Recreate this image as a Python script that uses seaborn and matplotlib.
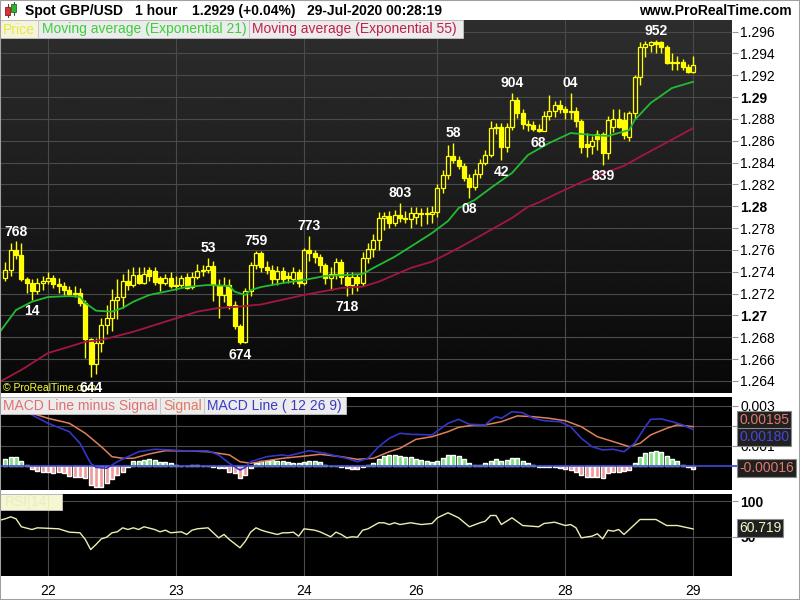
import numpy as np
import matplotlib
matplotlib.use("Agg")
import matplotlib.pyplot as plt
from matplotlib.patches import Rectangle
from matplotlib.lines import Line2D
import seaborn as sns

sns.set_style("white")
plt.rcParams['font.family'] = ['Liberation Sans', 'DejaVu Sans']

# ---------------- data (hourly candles, index 0 = 21-Jul 16:00) ----------------
opens = [1.2734, 1.2742, 1.2760, 1.2755, 1.2733, 1.2730, 1.2722, 1.2730, 1.2732, 1.2734,
         1.2729, 1.2727, 1.2723, 1.2720, 1.2721, 1.2711, 1.2678, 1.2656, 1.2675, 1.2691,
         1.2698, 1.2714, 1.2717, 1.2732, 1.2728, 1.2737, 1.2730, 1.2742, 1.2741, 1.2734,
         1.2730, 1.2734, 1.2727, 1.2728, 1.2735, 1.2726, 1.2735, 1.2741, 1.2742, 1.2745,
         1.2728, 1.2719, 1.2728, 1.2710, 1.2690, 1.2676, 1.2722, 1.2746, 1.2757, 1.2744,
         1.2742, 1.2733, 1.2741, 1.2736, 1.2733, 1.2740, 1.2730, 1.2760, 1.2757, 1.2754,
         1.2746, 1.2734, 1.2738, 1.2749, 1.2735, 1.2728, 1.2735, 1.2730, 1.2753, 1.2761,
         1.2769, 1.2789, 1.2791, 1.2785, 1.2792, 1.2789, 1.2788, 1.2790, 1.2793, 1.2794,
         1.2793, 1.2795, 1.2817, 1.2829, 1.2846, 1.2842, 1.2837, 1.2826, 1.2818, 1.2830,
         1.2840, 1.2847, 1.2872, 1.2873, 1.2854, 1.2873, 1.2897, 1.2885, 1.2875, 1.2874,
         1.2871, 1.2869, 1.2883, 1.2887, 1.2893, 1.2889, 1.2886, 1.2887, 1.2878, 1.2857,
         1.2855, 1.2866, 1.2866, 1.2849, 1.2873, 1.2880, 1.2879, 1.2863, 1.2885, 1.2918,
         1.2946, 1.2948, 1.2950, 1.2950, 1.2946, 1.2931, 1.2932, 1.2932, 1.2928, 1.2923]
highs = [1.2749, 1.2766, 1.2768, 1.2766, 1.2735, 1.2733, 1.2734, 1.2736, 1.2740, 1.2737,
         1.2734, 1.2731, 1.2727, 1.2727, 1.2725, 1.2714, 1.2679, 1.2679, 1.2698, 1.2710,
         1.2724, 1.2733, 1.2738, 1.2743, 1.2744, 1.2744, 1.2744, 1.2744, 1.2744, 1.2736,
         1.2738, 1.2740, 1.2736, 1.2737, 1.2739, 1.2740, 1.2747, 1.2746, 1.2753, 1.2750,
         1.2733, 1.2735, 1.2733, 1.2713, 1.2692, 1.2725, 1.2749, 1.2759, 1.2759, 1.2750,
         1.2746, 1.2745, 1.2744, 1.2740, 1.2744, 1.2743, 1.2762, 1.2773, 1.2760, 1.2756,
         1.2748, 1.2744, 1.2753, 1.2752, 1.2740, 1.2740, 1.2738, 1.2758, 1.2766, 1.2775,
         1.2795, 1.2795, 1.2796, 1.2797, 1.2803, 1.2796, 1.2799, 1.2799, 1.2798, 1.2799,
         1.2800, 1.2820, 1.2833, 1.2856, 1.2858, 1.2846, 1.2840, 1.2830, 1.2834, 1.2843,
         1.2852, 1.2878, 1.2876, 1.2876, 1.2876, 1.2904, 1.2900, 1.2889, 1.2879, 1.2878,
         1.2875, 1.2887, 1.2902, 1.2896, 1.2897, 1.2892, 1.2904, 1.2891, 1.2880, 1.2867,
         1.2864, 1.2870, 1.2868, 1.2883, 1.2889, 1.2889, 1.2886, 1.2887, 1.2920, 1.2950,
         1.2951, 1.2951, 1.2952, 1.2951, 1.2948, 1.2940, 1.2938, 1.2935, 1.2930, 1.2938]
lows = [1.2732, 1.2736, 1.2752, 1.2732, 1.2721, 1.2714, 1.2720, 1.2723, 1.2729, 1.2725,
        1.2721, 1.2719, 1.2718, 1.2717, 1.2709, 1.2661, 1.2644, 1.2646, 1.2667, 1.2683,
        1.2686, 1.2697, 1.2707, 1.2723, 1.2726, 1.2729, 1.2729, 1.2732, 1.2728, 1.2722,
        1.2728, 1.2725, 1.2723, 1.2725, 1.2724, 1.2724, 1.2733, 1.2736, 1.2739, 1.2713,
        1.2698, 1.2712, 1.2706, 1.2688, 1.2674, 1.2675, 1.2718, 1.2743, 1.2740, 1.2738,
        1.2728, 1.2728, 1.2730, 1.2730, 1.2729, 1.2726, 1.2728, 1.2750, 1.2748, 1.2740,
        1.2729, 1.2723, 1.2733, 1.2729, 1.2718, 1.2720, 1.2722, 1.2727, 1.2748, 1.2754,
        1.2760, 1.2778, 1.2780, 1.2782, 1.2786, 1.2785, 1.2780, 1.2784, 1.2782, 1.2784,
        1.2785, 1.2790, 1.2812, 1.2825, 1.2840, 1.2834, 1.2823, 1.2808, 1.2815, 1.2826,
        1.2838, 1.2845, 1.2866, 1.2842, 1.2850, 1.2870, 1.2881, 1.2871, 1.2869, 1.2869,
        1.2868, 1.2869, 1.2879, 1.2882, 1.2885, 1.2880, 1.2880, 1.2873, 1.2849, 1.2845,
        1.2848, 1.2852, 1.2838, 1.2843, 1.2868, 1.2872, 1.2862, 1.2860, 1.2880, 1.2911,
        1.2937, 1.2941, 1.2940, 1.2940, 1.2930, 1.2925, 1.2925, 1.2925, 1.2922, 1.2922]
closes = [1.2742, 1.2760, 1.2755, 1.2733, 1.2730, 1.2722, 1.2730, 1.2732, 1.2734, 1.2729,
          1.2727, 1.2723, 1.2720, 1.2721, 1.2711, 1.2678, 1.2656, 1.2675, 1.2691, 1.2698,
          1.2714, 1.2717, 1.2732, 1.2728, 1.2737, 1.2730, 1.2738, 1.2736, 1.2731, 1.2730,
          1.2734, 1.2727, 1.2728, 1.2734, 1.2725, 1.2735, 1.2741, 1.2742, 1.2745, 1.2728,
          1.2719, 1.2728, 1.2710, 1.2690, 1.2676, 1.2722, 1.2746, 1.2757, 1.2744, 1.2742,
          1.2733, 1.2741, 1.2733, 1.2734, 1.2740, 1.2730, 1.2760, 1.2757, 1.2754, 1.2746,
          1.2734, 1.2738, 1.2749, 1.2735, 1.2728, 1.2735, 1.2730, 1.2753, 1.2761, 1.2769,
          1.2789, 1.2791, 1.2785, 1.2792, 1.2789, 1.2788, 1.2794, 1.2794, 1.2794, 1.2793,
          1.2795, 1.2817, 1.2829, 1.2846, 1.2842, 1.2837, 1.2826, 1.2818, 1.2830, 1.2840,
          1.2847, 1.2872, 1.2873, 1.2854, 1.2873, 1.2897, 1.2885, 1.2875, 1.2874, 1.2871,
          1.2869, 1.2883, 1.2887, 1.2893, 1.2889, 1.2886, 1.2887, 1.2878, 1.2854, 1.2854,
          1.2860, 1.2862, 1.2849, 1.2879, 1.2880, 1.2873, 1.2865, 1.2885, 1.2918, 1.2946,
          1.2949, 1.2950, 1.2949, 1.2946, 1.2931, 1.2932, 1.2931, 1.2928, 1.2923, 1.2929]

ema21_idx = [-1, 2, 5, 8, 12, 14, 15, 17, 20, 22, 24, 27, 30, 34, 38, 42, 43, 45, 46, 48,
             52, 56, 60, 64, 67, 69, 73, 76, 80, 83, 85, 88, 91, 95, 98, 102, 106, 110,
             113, 117, 118, 121, 125, 129]
ema21_val = [1.26851, 1.27050, 1.27126, 1.27169, 1.27178, 1.27172, 1.27114, 1.27044, 1.27035,
             1.27069, 1.27126, 1.27188, 1.27218, 1.27261, 1.27279, 1.27270, 1.27218, 1.27188,
             1.27233, 1.27261, 1.27297, 1.27325, 1.27362, 1.27371, 1.27380, 1.27435, 1.27538,
             1.27630, 1.27755, 1.27865, 1.27984, 1.28058, 1.28167, 1.28305, 1.28470, 1.28580,
             1.28671, 1.28653, 1.28644, 1.28699, 1.28790, 1.28946, 1.29083, 1.29141]
ema55_idx = [-1, 3, 8, 12, 15, 18, 24, 30, 36, 40, 43, 48, 56, 63, 67, 70, 76, 80, 85, 90,
             95, 98, 100, 104, 108, 112, 116, 120, 125, 129]
ema55_val = [1.26394, 1.26501, 1.26656, 1.26714, 1.26760, 1.26775, 1.26851, 1.26943, 1.27035,
             1.27069, 1.27078, 1.27101, 1.27188, 1.27252, 1.27264, 1.27309, 1.27435, 1.27493,
             1.27618, 1.27755, 1.27893, 1.27995, 1.28035, 1.28130, 1.28220, 1.28300, 1.28370,
             1.28480, 1.28610, 1.28717]

# MACD (values in units of 1e-4)
macd_idx = [-1, 5, 8, 12, 14, 16, 17, 19, 21, 23, 25, 28, 31, 34, 38, 40, 42, 44, 45, 46,
            49, 52, 53, 55, 57, 60, 62, 64, 66, 68, 70, 72, 74, 76, 80, 83, 85, 87, 90, 91,
            92, 93, 95, 97, 99, 101, 104, 106, 108, 110, 112, 114, 116, 118, 120, 121, 123,
            125, 127, 129]
macd_e4 = [32.0, 25.4, 21.2, 17.0, 11.2, 1.2, -0.8, -1.3, 2.0, 4.5, 7.0, 8.2, 7.9, 7.4, 7.4,
           5.4, 1.2, -2.2, -0.8, 2.0, 4.5, 5.4, 4.9, 6.2, 7.5, 6.2, 4.9, 3.7, 2.0, 3.7, 9.5,
           13.7, 16.2, 15.7, 15.4, 21.2, 23.2, 20.7, 20.4, 22.9, 24.5, 23.7, 27.0, 26.5, 23.7,
           22.5, 22.0, 19.5, 13.7, 9.5, 7.9, 8.2, 7.0, 11.2, 19.5, 23.2, 23.4, 22.0, 20.4, 18.0]
signal_idx = [-1, 5, 8, 12, 15, 18, 20, 22, 24, 27, 30, 34, 38, 42, 44, 46, 49, 52, 55, 59,
              63, 66, 69, 72, 74, 77, 80, 83, 85, 88, 90, 93, 96, 99, 102, 105, 108, 111,
              115, 117, 119, 121, 124, 126, 129]
signal_e4 = [27.5, 26.2, 23.7, 21.2, 16.2, 9.5, 4.5, 3.7, 3.7, 5.9, 7.5, 7.4, 7.0, 5.4, 2.0,
             1.2, 2.5, 3.7, 4.5, 5.7, 4.5, 3.2, 3.7, 7.0, 8.7, 13.2, 14.5, 17.0, 19.2, 20.4,
             20.4, 22.0, 24.9, 24.5, 23.7, 22.5, 19.5, 14.5, 11.2, 9.5, 11.2, 15.4, 18.7, 20.4,
             19.5]
hist_e4 = [3.4, 4.2, 4.2, 2.4, 0.3, -1.6, -2.6, -3.0, -3.3, -3.8,
           -3.0, -3.8, -5.1, -5.5, -5.8, -6.3, -9.6, -10.5, -10.8, -8.8,
           -6.8, -4.6, -3.0, -0.4, 2.4, 2.6, 2.9, 3.4, 2.9, 2.0,
           1.9, 1.2, 0.4, 0.1, -0.1, 0.3, 0.3, 0.1, -0.2, -0.6,
           -0.9, -1.1, -3.0, -3.8, -6.3, -4.6, -1.3, 1.5, 2.4, 2.6,
           2.9, 2.6, 2.2, 1.9, 1.4, 1.3, 2.0, 2.4, 2.4, 2.0,
           0.3, 0.1, -0.2, -0.6, -1.1, -1.5, -1.5, -0.5, 0.3, 1.3,
           3.3, 5.0, 5.5, 5.5, 4.8, 4.5, 4.2, 3.2, 2.9, 2.6,
           2.0, 2.6, 3.7, 5.3, 5.3, 4.8, 3.2, 1.5, 0.4, 0.4,
           1.5, 2.6, 3.2, 2.6, 2.9, 3.7, 3.7, 2.4, 1.3, 0.2,
           -0.8, -0.8, -0.8, -0.8, -1.0, -1.5, -2.0, -3.0, -4.6, -5.8,
           -5.8, -5.8, -6.3, -3.8, -3.0, -3.0, -2.6, -2.1, 1.3, 4.5,
           6.5, 7.0, 7.3, 7.0, 4.7, 3.2, 2.4, 0.4, -0.4, -1.6]

rsi_idx = [-1, 0, 1, 2, 3, 5, 6, 10, 12, 14, 15, 16, 17, 18, 19, 20, 21, 22, 23, 24, 25, 26,
           28, 29, 30, 31, 33, 34, 35, 36, 38, 39, 40, 41, 42, 44, 45, 46, 47, 48, 49, 51, 52,
           53, 54, 55, 56, 58, 59, 61, 62, 63, 64, 65, 66, 67, 68, 70, 71, 72, 73, 74, 76, 78,
           80, 81, 83, 85, 87, 89, 90, 91, 92, 93, 95, 97, 100, 101, 103, 105, 106, 107, 108,
           110, 111, 112, 113, 114, 115, 116, 119, 122, 124, 126, 128, 129]
rsi_val = [73.3, 75.3, 78.1, 75.3, 63.9, 60.0, 62.4, 61.0, 56.2, 55.3, 45.7, 31.4, 38.6, 46.7,
           49.0, 55.3, 56.7, 62.4, 60.0, 62.4, 60.0, 63.9, 60.0, 56.7, 59.0, 55.3, 56.7, 52.9,
           59.0, 61.0, 62.4, 55.3, 48.1, 52.9, 45.7, 33.9, 43.3, 56.2, 62.4, 59.0, 56.7, 52.9,
           55.3, 55.3, 56.2, 50.5, 61.0, 59.0, 56.7, 49.6, 56.2, 52.9, 48.1, 49.6, 49.0, 59.0,
           61.0, 69.6, 69.6, 67.1, 69.6, 67.1, 69.6, 67.1, 68.6, 76.7, 83.9, 76.7, 63.9, 69.6,
           71.9, 80.0, 80.0, 67.1, 76.7, 65.7, 63.9, 68.6, 70.4, 65.7, 67.1, 62.4, 48.1, 50.5,
           53.9, 46.7, 59.0, 57.6, 60.0, 52.9, 74.3, 74.3, 65.7, 65.7, 62.4, 60.7]

date_labels = ['22', '23', '24', '26', '28', '29']
date_idx = [8, 32, 56, 77, 105, 129]
grid_idx = [8, 32, 56, 81, 105, 129]

price_ticks = [1.264, 1.266, 1.268, 1.270, 1.272, 1.274, 1.276, 1.278, 1.280, 1.282,
               1.284, 1.286, 1.288, 1.290, 1.292, 1.294, 1.296]
price_labels = ['1.264', '1.266', '1.268', '1.27', '1.272', '1.274', '1.276', '1.278', '1.28',
                '1.282', '1.284', '1.286', '1.288', '1.29', '1.292', '1.294', '1.296']

ann_idx = [2, 5, 16, 38, 44, 47, 57, 64, 74, 84, 87, 93, 95, 100, 106, 112, 122]
ann_price = [1.2768, 1.2714, 1.2644, 1.2753, 1.2674, 1.2759, 1.2773, 1.2718, 1.2803, 1.2858,
             1.2808, 1.2842, 1.2904, 1.2868, 1.2904, 1.2838, 1.2952]
ann_text = ['768', '14', '644', '53', '674', '759', '773', '718', '803', '58', '08', '42',
            '904', '68', '04', '839', '952']
ann_side = ['h', 'l', 'l', 'h', 'l', 'h', 'h', 'l', 'h', 'h', 'l', 'l', 'h', 'l', 'h', 'l', 'h']

# ---------------- layout ----------------
W, H = 800, 600
def fx(px): return px / W
def fy(py): return 1 - py / H

fig = plt.figure(figsize=(W / 100, H / 100), dpi=100, facecolor='white')
XMIN, XMAX = -1.0, 136.25
GRID = '#4a4a4a'
YEL = '#ffff00'

ax = fig.add_axes([0, fy(393), fx(732), (393 - 20) / H])
axm = fig.add_axes([0, fy(490), fx(732), (490 - 397) / H])
axr = fig.add_axes([0, fy(576), fx(732), (576 - 494) / H])

# main background gradient
grad = np.linspace(0.18, 0.03, 256).reshape(-1, 1)
ax.imshow(grad, cmap='gray', vmin=0, vmax=1, extent=(0, 1, 0, 1), transform=ax.transAxes,
          aspect='auto', zorder=0, interpolation='bilinear')
axm.set_facecolor('black')
axr.set_facecolor('black')

for a in (ax, axm, axr):
    for g in grid_idx:
        a.axvline(g, color=GRID, lw=0.8, zorder=1)
    for s in a.spines.values():
        s.set_visible(False)
for t in price_ticks:
    ax.axhline(t, color=GRID, lw=0.8, zorder=1)

# candles
o, h, l, c = map(np.array, (opens, highs, lows, closes))
idx = np.arange(len(o))
lo_b = np.minimum(o, c)
hi_b = np.maximum(o, c)
ax.vlines(idx, l, lo_b, color=YEL, lw=1.0, zorder=3)
ax.vlines(idx, hi_b, h, color=YEL, lw=1.0, zorder=3)
bh = np.maximum(hi_b - lo_b, 0.00004)
up = c > o
ax.bar(idx[up], bh[up], bottom=lo_b[up], width=0.72, facecolor='none', edgecolor=YEL,
       linewidth=0.9, zorder=3)
ax.bar(idx[~up], bh[~up], bottom=lo_b[~up], width=0.72, facecolor=YEL, edgecolor=YEL,
       linewidth=0.9, zorder=3)

sns.lineplot(x=ema55_idx, y=ema55_val, ax=ax, color='#a3173f', lw=1.3, zorder=4)
sns.lineplot(x=ema21_idx, y=ema21_val, ax=ax, color='#22bb33', lw=1.3, zorder=4)

for i, p, t, sd in zip(ann_idx, ann_price, ann_text, ann_side):
    off = 7 if sd == 'h' else -8
    ax.annotate(t, (i, p), xytext=(0, off), textcoords='offset points', ha='center',
                va='center', color='white', fontsize=10, fontweight='bold', zorder=6)

ax.text(3 / 732, (393 - 388) / 373, '\u00a9 ProRealTime.com', transform=ax.transAxes,
        color='#ffff33', fontsize=7.5, va='center', ha='left', zorder=5)

ax.set_xlim(XMIN, XMAX)
ax.set_ylim(1.26290, 1.29706)
ax.set_xlabel('')
ax.set_ylabel('')
ax.yaxis.tick_right()
ax.set_yticks(price_ticks)
ax.set_yticklabels(price_labels)
ax.set_xticks([])
ax.tick_params(axis='y', direction='out', length=4, width=0.8, color='#999999', pad=2,
               labelsize=10, labelcolor='black')
for lab, t in zip(ax.get_yticklabels(), price_labels):
    if len(t) == 4:
        lab.set_fontweight('bold')

# MACD panel
hist = np.array(hist_e4) * 1e-4
hcol = ['#80c8e8' if abs(v) < 0.5 else ('#7ee07e' if v > 0 else '#f29a9a') for v in hist_e4]
axm.bar(idx, hist, width=0.75, color=hcol, zorder=2)
for t in (0.001, 0.002, 0.003):
    axm.axhline(t, color=GRID, lw=0.8, zorder=1)
axm.axhline(0, color='#3c4fd8', lw=1.2, zorder=3)
sns.lineplot(x=signal_idx, y=np.array(signal_e4) * 1e-4, ax=axm, color='#e0805a', lw=1.1, zorder=4)
sns.lineplot(x=macd_idx, y=np.array(macd_e4) * 1e-4, ax=axm, color='#3535c8', lw=1.2, zorder=4)
axm.set_xlim(XMIN, XMAX)
axm.set_ylim(-0.001215, 0.003435)
axm.set_xlabel('')
axm.set_ylabel('')
axm.set_xticks([])
axm.yaxis.tick_right()
axm.set_yticks([0, 0.001, 0.002, 0.003])
axm.set_yticklabels(['0', '0.001', '0.002', '0.003'])
axm.tick_params(axis='y', direction='out', length=4, width=0.8, color='#999999', pad=2,
                labelsize=10, labelcolor='black')

# RSI panel
for t in (50, 100):
    axr.axhline(t, color=GRID, lw=0.8, zorder=1)
sns.lineplot(x=rsi_idx, y=rsi_val, ax=axr, color='#eeeeb0', lw=1.0, zorder=3)
axr.set_xlim(XMIN, XMAX)
axr.set_ylim(-6.4, 110.7)
axr.set_xlabel('')
axr.set_ylabel('')
axr.yaxis.tick_right()
axr.set_yticks([50, 100])
axr.set_yticklabels(['50', '100'], fontweight='bold')
axr.tick_params(axis='y', direction='out', length=4, width=0.8, color='#999999', pad=2,
                labelsize=10, labelcolor='black')
axr.set_xticks(date_idx)
axr.set_xticklabels(date_labels)
axr.tick_params(axis='x', length=0, pad=6, labelsize=10, labelcolor='black')

# ---------------- header / legends / value boxes ----------------
def box(x0, y0, x1, y1, fc, ec='#c4c4c4', z=5):
    fig.add_artist(Rectangle((fx(x0), fy(y1)), fx(x1) - fx(x0), fy(y0) - fy(y1),
                             transform=fig.transFigure, facecolor=fc, edgecolor=ec, lw=0.6,
                             zorder=z))

# header icon
fig.add_artist(Line2D([fx(7.5), fx(7.5)], [fy(4), fy(17)], color='#444', lw=0.8))
box(5, 7, 10, 15, '#e03030', ec='#802020')
fig.add_artist(Line2D([fx(13.5), fx(13.5)], [fy(2), fy(15)], color='#444', lw=0.8))
box(11, 4, 16, 12, '#30b030', ec='#207020')

hdr = dict(fontsize=10, fontweight='bold', va='center', color='black')
fig.text(fx(25), fy(11), 'Spot GBP/USD', **hdr)
fig.text(fx(135), fy(11), '1 hour', **hdr)
fig.text(fx(192), fy(11), '1.2929 (+0.04%)', **hdr)
fig.text(fx(307), fy(11), '29-Jul-2020 00:28:19', **hdr)
fig.text(fx(792), fy(11), 'www.ProRealTime.com', ha='right', **hdr)

box(0, 20, 38, 38, '#f4f4dc')
box(38, 20, 249, 38, '#ececec')
box(249, 20, 463, 38, '#ececec')
fig.text(fx(3), fy(29.5), 'Price', color='#e8e840', fontsize=10, va='center', zorder=6)
fig.text(fx(41.5), fy(29.5), 'Moving average (Exponential 21)', color='#3ccf3c', fontsize=10,
         va='center', zorder=6)
fig.text(fx(252), fy(29.5), 'Moving average (Exponential 55)', color='#c0204c', fontsize=10,
         va='center', zorder=6)

box(0, 397, 160, 414, '#ececec')
box(160, 397, 204, 414, '#ececec')
box(204, 397, 346, 414, '#ececec')
fig.text(fx(3), fy(406), 'MACD Line minus Signal', color='#e07070', fontsize=10, va='center', zorder=6)
fig.text(fx(163), fy(406), 'Signal', color='#e07a60', fontsize=10, va='center', zorder=6)
fig.text(fx(207), fy(406), 'MACD Line ( 12 26 9)', color='#3a3ac4', fontsize=10, va='center', zorder=6)

box(0, 494, 62, 510, '#f6f6d2')
fig.text(fx(5), fy(502), 'RSI[14]', color='#ececc0', fontsize=10, va='center', zorder=6)

vb = dict(boxstyle='square,pad=0.15', fc='#202020', ec='#8a8a8a', lw=0.8)
fig.text(fx(739), fy(420), '0.00195', color='#e0786a', fontsize=10, va='center', bbox=vb, zorder=7)
fig.text(fx(739), fy(437), '0.00180', color='#4848d8', fontsize=10, va='center', bbox=vb, zorder=7)
fig.text(fx(739), fy(468), '-0.00016', color='#e0786a', fontsize=10, va='center', bbox=vb, zorder=7)
fig.text(fx(739), fy(528), '60.719', color='#f4f4c8', fontsize=10, va='center', bbox=vb, zorder=7)
fig.add_artist(Line2D([fx(732), fx(738)], [fy(465.7), fy(465.7)], color='#3c4fd8', lw=1.2))

fig.add_artist(Rectangle((0, 0), 1, 1, transform=fig.transFigure, fill=False,
                         edgecolor='#a0a0a0', lw=1.5, zorder=10))

fig.savefig('out.png', dpi=100, facecolor='white')
